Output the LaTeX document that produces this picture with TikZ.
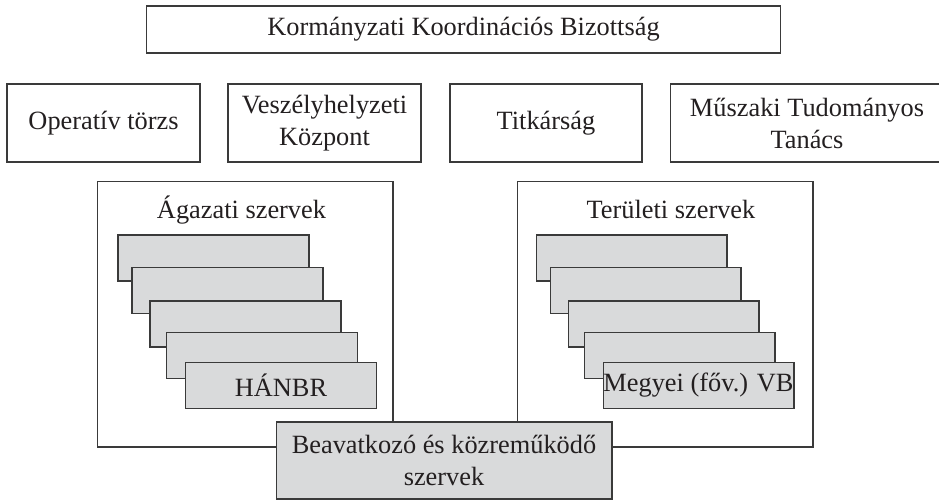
\documentclass[tikz,border=0pt]{standalone}
\usepackage{fontspec}
\setmainfont{Liberation Serif}
\usetikzlibrary{positioning}
\definecolor{linegray}{HTML}{3A3A3A}
\definecolor{boxgray}{HTML}{D9DADB}
\definecolor{inkgray}{HTML}{231F20}

\begin{document}
\begin{tikzpicture}[
x=0.02cm, y=-0.02cm,
font=\fontsize{15}{18.2}\selectfont,
text=inkgray
]

\tikzstyle{b} = [draw=linegray, line width=0.6pt, shape=rectangle, align=center, inner sep=0pt]
\tikzstyle{s} = [b, minimum width=3.86cm, minimum height=1.56cm]
\tikzstyle{g} = [b, fill=boxgray, minimum width=3.82cm, minimum height=0.92cm]
\tikzstyle{f} = [b, minimum width=5.92cm, minimum height=5.32cm]

\useasboundingbox (0,0) rectangle (939,501);

% top row
\node[b, minimum width=12.7cm, minimum height=0.94cm] (kkb) at (463.5,29.5) {Korm\'anyzati Koordin\'aci\'os Bizotts\'ag};

% second row
\node[s] (ot) at (103.5,123) {Operat\'iv t\"orzs};
\node[s] (vk) at (324.5,123) {Vesz\'elyhelyzeti\\K\"ozpont};
\node[s, minimum width=3.84cm] (tit) at (546,123) {Titk\'ars\'ag};
\node[s, minimum width=5.48cm] (mtt) at (807,123) {Műszaki Tudom\'anyos\\Tan\'acs};

% frames
\node[f] (ag) at (245,314) {};
\node[f] (ter) at (665,314) {};
\node[anchor=base] (agt) at (241.5,218) {\'Agazati szervek};
\node[anchor=base] (tert) at (671,218) {Ter\"uleti szervek};

% stacked boxes, left
\node[g] (ag1) at (213.5,258) {};
\node[g] (ag2) at (227.5,290.5) {};
\node[g] (ag3) at (245.5,324) {};
\node[g] (ag4) at (262,355.5) {};
\node[g] (ag5) at (281,385.5) {H\'ANBR};

% stacked boxes, right
\node[g] (ter1) at (631.5,258) {};
\node[g] (ter2) at (645.5,290.5) {};
\node[g] (ter3) at (663.5,324) {};
\node[g] (ter4) at (679.5,355.5) {};
\node[g] (ter5) at (698.5,385.5) {Megyei (főv.) VB};

% bottom
\node[b, fill=boxgray, minimum width=6.72cm, minimum height=1.54cm] (bea) at (444,460.5) {Beavatkoz\'o \'es k\"ozreműk\"odő\\szervek};
\end{tikzpicture}
\end{document}
